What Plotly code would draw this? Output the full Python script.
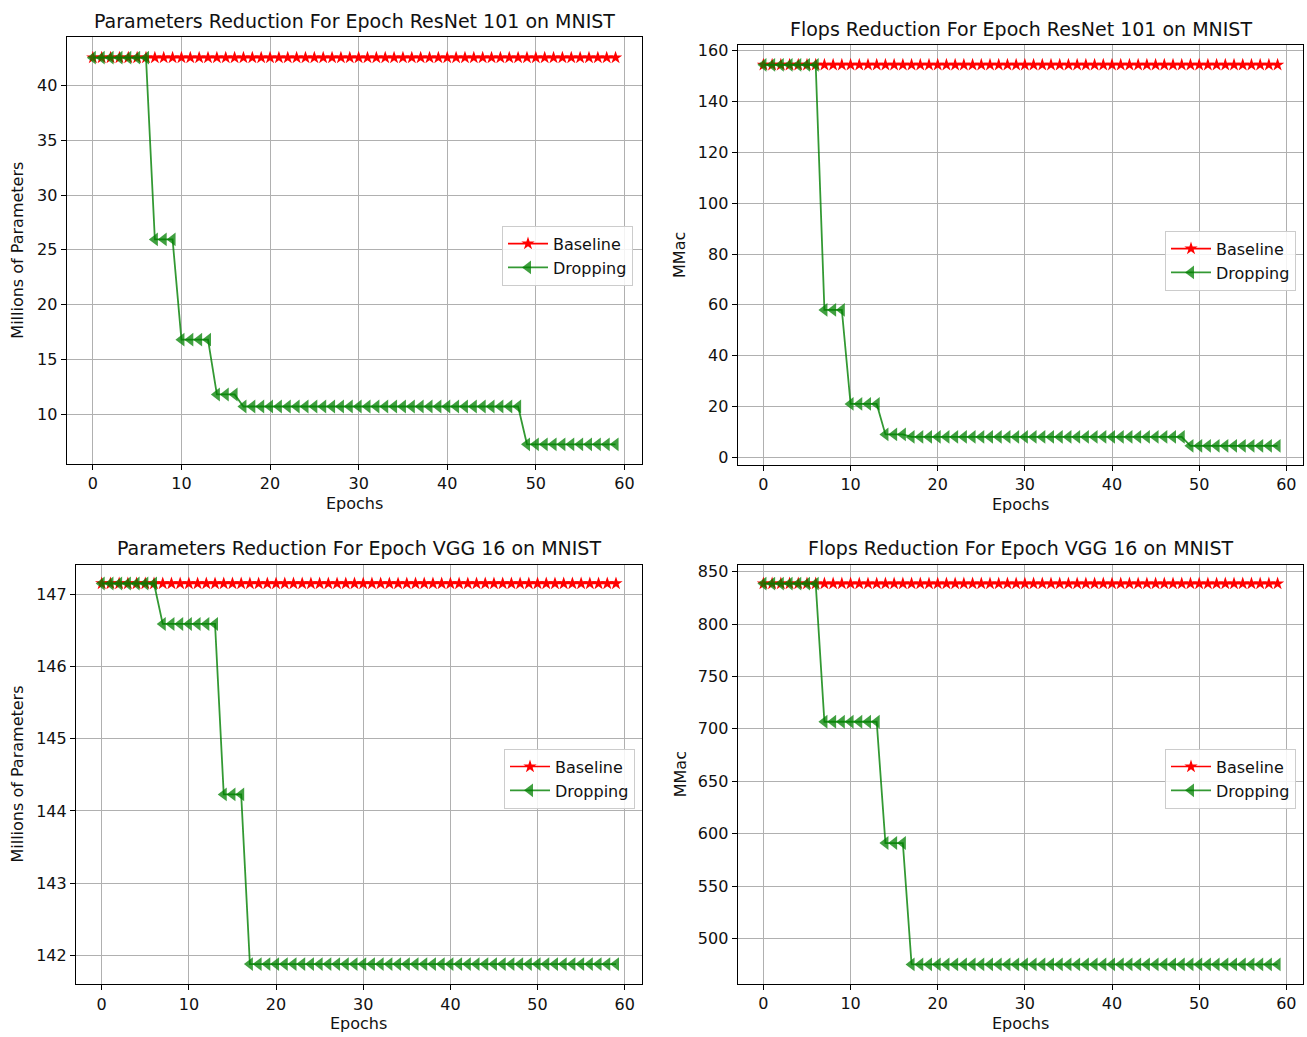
import plotly.graph_objects as go

epochs = list(range(60))

# ResNet 101 parameters (millions)
resnet_params_base = [42.54] * 60
resnet_params_drop = [42.54] * 7 + [25.95] * 3 + [16.8] * 4 + [11.8] * 3 + [10.7] * 32 + [7.25] * 11

# ResNet 101 flops (MMac)
resnet_flops_base = [154.5] * 60
resnet_flops_drop = [154.5] * 7 + [58.0] * 3 + [21.0] * 4 + [9.0] * 3 + [8.0] * 32 + [4.5] * 11

# VGG 16 parameters (millions)
vgg_params_base = [147.15] * 60
vgg_params_drop = [147.15] * 7 + [146.59] * 7 + [144.23] * 3 + [141.88] * 43

# VGG 16 flops (MMac)
vgg_flops_base = [838.6] * 60
vgg_flops_drop = [838.6] * 7 + [706.8] * 7 + [591.1] * 3 + [475.3] * 43

titles = [
    "Parameters Reduction For Epoch ResNet 101 on MNIST",
    "Flops Reduction For Epoch ResNet 101 on MNIST",
    "Parameters Reduction For Epoch VGG 16 on MNIST",
    "Flops Reduction For Epoch VGG 16 on MNIST",
]
ylabels = ["Millions of Parameters", "MMac", "Millions of Parameters", "MMac"]
yticks = [
    [10, 15, 20, 25, 30, 35, 40],
    [0, 20, 40, 60, 80, 100, 120, 140, 160],
    [142, 143, 144, 145, 146, 147],
    [500, 550, 600, 650, 700, 750, 800, 850],
]
xticks = [0, 10, 20, 30, 40, 50, 60]

W, H = 1307, 1037
FONT = "DejaVu Sans"
TXT = "#111111"

# pixel boxes (left, top, right, bottom)
boxes = [
    (66.7, 33.5, 641.7, 462.7),
    (737.7, 41.5, 1303.3, 463.3),
    (76.0, 564.0, 641.7, 986.0),
    (737.7, 564.0, 1303.3, 985.5),
]
yranges = [[5.45, 44.4], [-2.9, 162.2], [141.6, 147.41], [456.8, 856.6]]
title_y = [17, 25, 547, 547]
xlabel_y = [502, 503, 1025, 1025]
ylabel_x = [18, 680, 18, 680]
legend_pos = [(502, 223), (1165, 228), (504, 749), (1165, 749)]

series = [
    (resnet_params_base, resnet_params_drop),
    (resnet_flops_base, resnet_flops_drop),
    (vgg_params_base, vgg_params_drop),
    (vgg_flops_base, vgg_flops_drop),
]

fig = go.Figure()
layout = dict(
    width=W, height=H,
    margin=dict(l=0, r=0, t=0, b=0),
    paper_bgcolor="white", plot_bgcolor="white",
    font=dict(family=FONT, size=16, color=TXT),
    annotations=[],
    showlegend=True,
)

for i in range(4):
    n = "" if i == 0 else str(i + 1)
    xa, ya = "x" + n, "y" + n
    lg = "legend" + n
    base, drop = series[i]
    fig.add_trace(go.Scatter(
        x=epochs, y=base, mode="lines+markers", name="Baseline",
        line=dict(color="#ff0000", width=1.6),
        marker=dict(symbol="star", size=10, color="#ff0000"),
        xaxis=xa, yaxis=ya, legend=lg,
    ))
    fig.add_trace(go.Scatter(
        x=epochs, y=drop, mode="lines+markers", name="Dropping",
        line=dict(color="rgba(0,128,0,0.8)", width=1.8),
        marker=dict(symbol="triangle-left", size=12, color="rgba(0,128,0,0.75)",
                    line=dict(width=0)),
        xaxis=xa, yaxis=ya, legend=lg,
    ))
    l, t, r, b = boxes[i]
    common = dict(
        showline=True, linecolor="black", linewidth=1.2, mirror=True,
        showgrid=True, gridcolor="#b0b0b0", gridwidth=1,
        ticks="outside", ticklen=5, tickwidth=1, tickcolor="black",
        zeroline=False, tickfont=dict(family=FONT, size=16, color=TXT),
    )
    layout["xaxis" + n] = dict(
        domain=[l / W, r / W], anchor=ya, range=[-2.95, 61.95],
        tickvals=xticks, **common,
    )
    layout["yaxis" + n] = dict(
        domain=[1 - b / H, 1 - t / H], anchor=xa, range=yranges[i],
        tickvals=yticks[i], **common,
    )
    lx, ly = legend_pos[i]
    layout[lg] = dict(
        x=lx / W, y=1 - ly / H, xanchor="left", yanchor="top",
        xref="paper", yref="paper",
        bgcolor="rgba(255,255,255,0.85)", bordercolor="#cccccc", borderwidth=1,
        font=dict(family=FONT, size=16, color=TXT),
        tracegroupgap=2, itemwidth=40,
    )
    layout["annotations"].append(dict(
        text=titles[i], x=(l + r) / 2 / W, y=1 - title_y[i] / H,
        xref="paper", yref="paper", xanchor="center", yanchor="middle",
        showarrow=False, font=dict(family=FONT, size=19, color=TXT),
    ))
    layout["annotations"].append(dict(
        text="Epochs", x=(l + r) / 2 / W, y=1 - xlabel_y[i] / H,
        xref="paper", yref="paper", xanchor="center", yanchor="middle",
        showarrow=False, font=dict(family=FONT, size=16, color=TXT),
    ))
    layout["annotations"].append(dict(
        text=ylabels[i], x=ylabel_x[i] / W, y=1 - (t + b) / 2 / H,
        xref="paper", yref="paper", xanchor="center", yanchor="middle",
        textangle=-90, showarrow=False, font=dict(family=FONT, size=16, color=TXT),
    ))

fig.update_layout(**layout)
fig.write_html(
    "out.html",
    config={"displayModeBar": False},
    post_script="document.body.style.margin='0';document.body.style.overflow='hidden';",
)
